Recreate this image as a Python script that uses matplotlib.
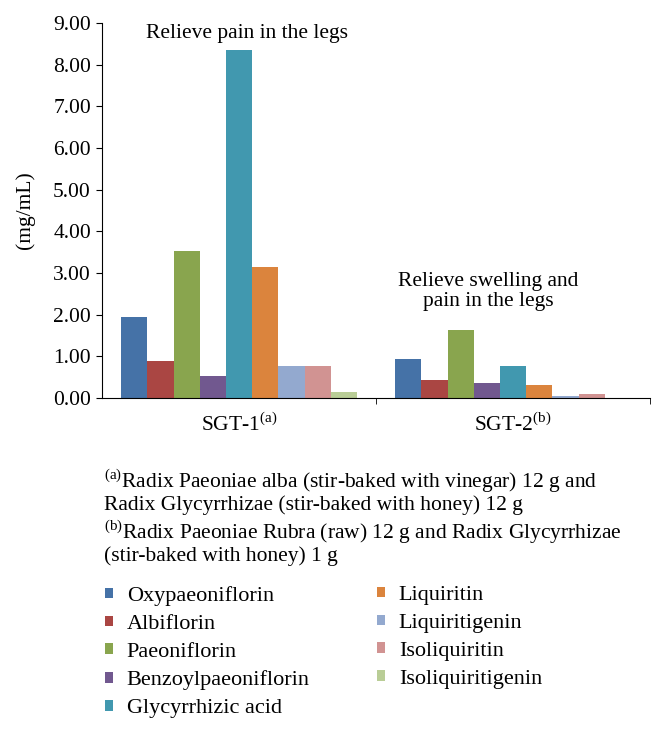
import numpy as np
import matplotlib
matplotlib.use("Agg")
import matplotlib.pyplot as plt
from matplotlib.patches import Patch

plt.rcParams['font.family'] = ['Liberation Serif', 'DejaVu Serif']
plt.rcParams['mathtext.fontset'] = 'custom'
plt.rcParams['mathtext.rm'] = 'Liberation Serif'

# data
groups = ["SGT-1$^{\\rm (a)}$", "SGT-2$^{\\rm (b)}$"]
compounds = ["Oxypaeoniflorin", "Albiflorin", "Paeoniflorin", "Benzoylpaeoniflorin",
             "Glycyrrhizic acid", "Liquiritin", "Liquiritigenin", "Isoliquiritin",
             "Isoliquiritigenin"]
sgt1 = [1.94, 0.89, 3.53, 0.54, 8.36, 3.15, 0.77, 0.77, 0.15]
sgt2 = [0.93, 0.44, 1.63, 0.36, 0.78, 0.32, 0.05, 0.09, 0.01]
colors = ["#4572A7", "#AA4643", "#89A54E", "#71588F", "#4198AF",
          "#DB843D", "#93A9CF", "#D19392", "#B9CD96"]

fig = plt.figure(figsize=(6.64, 7.31), dpi=100)
ax = fig.add_axes([0.1536, 0.4555, 0.979 - 0.1536, 0.9685 - 0.4555])

x = np.arange(len(groups))
w = 0.0956
handles = []
for i, name in enumerate(compounds):
    vals = [sgt1[i], sgt2[i]]
    ax.bar(x + (i - 4) * w, vals, w, color=colors[i], label=name, linewidth=0)
    handles.append(Patch(facecolor=colors[i], edgecolor='none'))

ax.set_xlim(-0.5, 1.5)
ax.set_ylim(0, 9)
ax.set_yticks(np.arange(0, 10, 1))
ax.set_yticklabels([f"{v:.2f}" for v in np.arange(0, 10, 1)], fontsize=15.5)
ax.set_xticks(x)
ax.set_xticklabels(groups, fontsize=15.5)
ax.set_xticks([0.5, 1.5], minor=True)
ax.tick_params(axis='x', which='major', length=0, pad=11)
ax.tick_params(axis='x', which='minor', length=4, direction='out')
ax.tick_params(axis='y', length=4, direction='out', pad=4)
ax.spines['top'].set_visible(False)
ax.spines['right'].set_visible(False)
ax.set_ylabel("(mg/mL)", fontsize=15.5, labelpad=13)

ax.text(0.03, 8.75, "Relieve pain in the legs", fontsize=15.5, ha='center', va='center')
ax.text(0.91, 2.55, "Relieve swelling and\npain in the legs", fontsize=15.5,
        ha='center', va='center', linespacing=1.1)

# footnotes
fs_note = 15.5
fig.text(104 / 664, 1 - 481 / 731, "$^{\\rm (a)}$Radix Paeoniae alba (stir-baked with vinegar) 12 g and",
         fontsize=fs_note, va='center')
fig.text(104 / 664, 1 - 505 / 731, "Radix Glycyrrhizae (stir-baked with honey) 12 g",
         fontsize=fs_note, va='center')
fig.text(104 / 664, 1 - 532 / 731, "$^{\\rm (b)}$Radix Paeoniae Rubra (raw) 12 g and Radix Glycyrrhizae",
         fontsize=fs_note, va='center')
fig.text(104 / 664, 1 - 556 / 731, "(stir-baked with honey) 1 g",
         fontsize=fs_note, va='center')

# legend, two columns placed separately (fig.legend keeps both)
leg_kw = dict(loc='upper left', frameon=False, fontsize=16,
              handlelength=0.36, handleheight=0.36, handletextpad=0.62,
              labelspacing=0.4, borderaxespad=0, borderpad=0)
fig.legend(handles[:5], compounds[:5], bbox_to_anchor=(105 / 664, 1 - 586 / 731), **leg_kw)
fig.legend(handles[5:], compounds[5:], bbox_to_anchor=(377 / 664, 1 - 586 / 731), **leg_kw)

fig.savefig("out.png", dpi=100)
